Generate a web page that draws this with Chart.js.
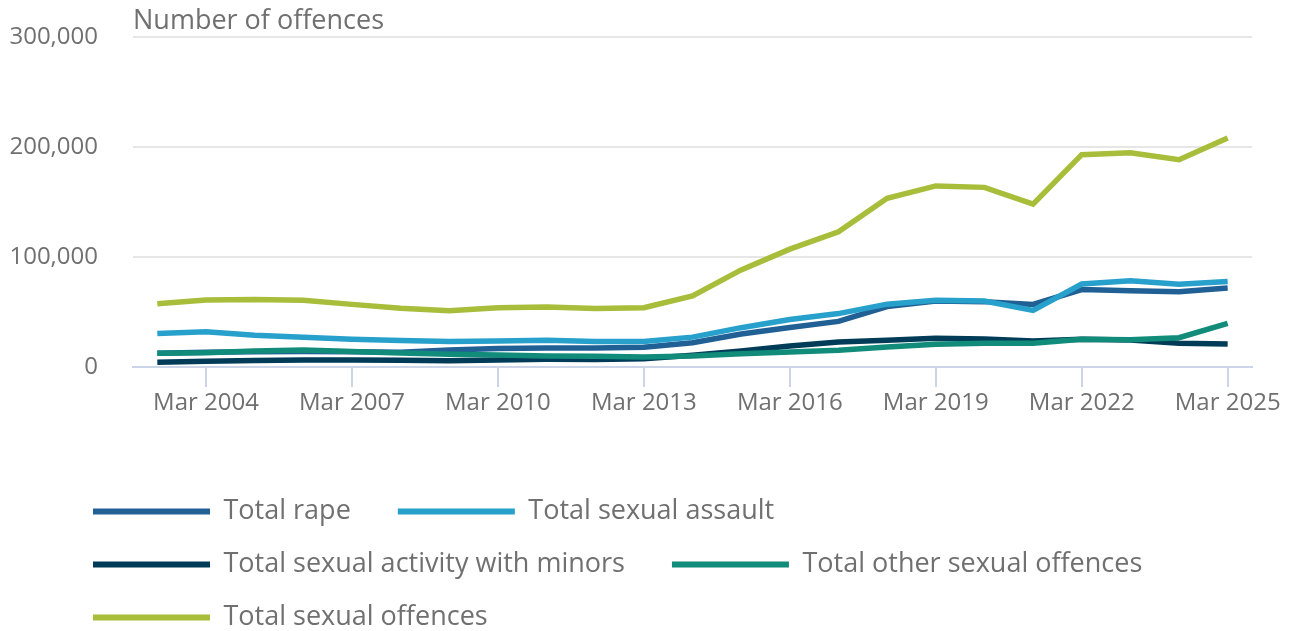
<!DOCTYPE html>
<html>
<head>
<meta charset="utf-8">
<script src="https://cdn.jsdelivr.net/npm/chart.js@4/dist/chart.umd.min.js"></script>
<style>
  body { margin: 0; background: #fff; }
</style>
</head>
<body>
<canvas id="offencesChart" width="1292" height="631"></canvas>
<script>
// year ending March, 2003 to 2025
const years = [
  "Mar 2003", "Mar 2004", "Mar 2005", "Mar 2006", "Mar 2007", "Mar 2008",
  "Mar 2009", "Mar 2010", "Mar 2011", "Mar 2012", "Mar 2013", "Mar 2014",
  "Mar 2015", "Mar 2016", "Mar 2017", "Mar 2018", "Mar 2019", "Mar 2020",
  "Mar 2021", "Mar 2022", "Mar 2023", "Mar 2024", "Mar 2025"
];

const totalRape = [12500, 13500, 13800, 14200, 13800, 13500, 15500, 16800, 17200, 17400, 18000, 22000,
  30000, 36000, 41500, 55000, 60000, 59500, 57000, 70500, 69300, 68400, 72000];
const totalSexualAssault = [30400, 32000, 29000, 27000, 25200, 24200, 23200, 23600, 24400, 23300, 23300, 27200,
  35800, 43300, 48600, 57200, 60800, 60000, 51500, 75500, 78400, 75400, 77800];
const totalActivityMinors = [4300, 5200, 6000, 6400, 6400, 6100, 5800, 6300, 7000, 6900, 7600, 10700,
  14600, 19100, 22800, 24300, 26200, 25500, 23700, 25200, 24600, 21600, 21000];
const totalOtherOffences = [12500, 13000, 14600, 15500, 14000, 12800, 11600, 10900, 10000, 9700, 9100, 10000,
  12100, 13700, 15200, 18200, 20700, 21600, 21600, 25200, 24900, 26700, 39800];
const totalSexualOffences = [57500, 61000, 61400, 60800, 57000, 53500, 51300, 54000, 54700, 53200, 54000, 64700,
  88400, 107300, 123000, 153500, 164800, 163500, 148300, 193300, 194900, 188700, 208500];

const yTicks = [0, 100000, 200000, 300000];

const textGrey = "#707070";
const axisBlue = "#ccd4e8";

Chart.defaults.font.family = "'Open Sans', sans-serif";
Chart.defaults.font.size = 24;
Chart.defaults.color = textGrey;

const series = [
  { label: "Total rape", data: totalRape, color: "#206095", order: 5 },
  { label: "Total sexual assault", data: totalSexualAssault, color: "#27a0cc", order: 4 },
  { label: "Total sexual activity with minors", data: totalActivityMinors, color: "#003c57", order: 3 },
  { label: "Total other sexual offences", data: totalOtherOffences, color: "#118c7b", order: 2 },
  { label: "Total sexual offences", data: totalSexualOffences, color: "#a8bd3a", order: 1 }
];

// move the legend rows in a bit from the left edge
const legendShift = {
  id: "legendShift",
  afterLayout(chart) {
    chart.legend.left = 67;
  },
};

const ctx = document.getElementById("offencesChart").getContext("2d");
const chart = new Chart(ctx, {
  type: "line",
  data: {
    labels: years,
    datasets: series.map((s) => ({
      label: s.label,
      data: s.data,
      borderColor: s.color,
      backgroundColor: s.color,
      borderWidth: 5.5,
      pointRadius: 0,
      tension: 0,
      order: s.order,
    })),
  },
  options: {
    responsive: false,
    animation: false,
    layout: {
      padding: { left: 0, right: 40, top: 0, bottom: -10 },
    },
    scales: {
      x: {
        offset: true,
        grid: {
          offset: false,
          drawOnChartArea: false,
          drawTicks: true,
          tickLength: 20,
          lineWidth: 2,
          color: (c) => (c.index % 3 === 1 ? axisBlue : "rgba(0,0,0,0)"),
        },
        border: { display: true, color: axisBlue, width: 2 },
        ticks: {
          autoSkip: false,
          maxRotation: 0,
          minRotation: 0,
          padding: 2,
          color: textGrey,
          callback: (v, i) => (i % 3 === 1 ? years[i] : ""),
        },
        afterFit: (scale) => {
          scale.height = 105;
          scale.paddingRight = 0;
          scale.paddingLeft = 0;
        },
      },
      y: {
        min: 0,
        max: 300000,
        afterBuildTicks: (scale) => {
          scale.ticks = yTicks.map((v) => ({ value: v }));
        },
        grid: {
          color: "#e6e6e6",
          lineWidth: 2,
          drawTicks: false,
        },
        border: { display: false },
        ticks: {
          padding: 35,
          color: textGrey,
          callback: (v) => v.toLocaleString("en-US"),
        },
        afterFit: (scale) => {
          scale.width = 133;
          scale.paddingTop = 0;
          scale.paddingBottom = 0;
        },
      },
    },
    plugins: {
      title: {
        display: true,
        text: "Number of offences",
        align: "start",
        fullSize: false,
        color: textGrey,
        font: { size: 27, weight: "normal" },
        padding: { top: 5, bottom: 0 },
      },
      legend: {
        position: "bottom",
        align: "start",
        labels: {
          boxWidth: 117,
          boxHeight: 6,
          padding: 26,
          color: textGrey,
          font: { size: 27 },
          sort: (a, b) => a.datasetIndex - b.datasetIndex,
          generateLabels: (c) =>
            Chart.defaults.plugins.legend.labels.generateLabels(c).map((item) => ({
              ...item,
              text: item.text + "   ",
              fillStyle: item.strokeStyle,
              lineWidth: 0,
            })),
        },
      },
      tooltip: { enabled: false },
    },
  },
  plugins: [legendShift],
});
</script>
</body>
</html>
